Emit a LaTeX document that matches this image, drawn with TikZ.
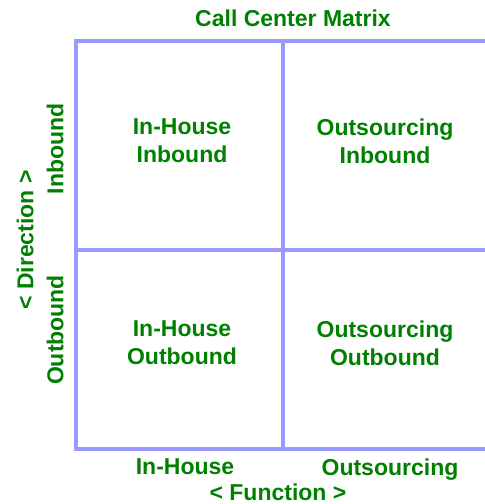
\documentclass[tikz,border=0pt]{standalone}
\usepackage{fontspec}
\setmainfont{Liberation Sans}
\definecolor{matrixgreen}{RGB}{0,128,0}
\definecolor{gridblue}{RGB}{153,153,255}

\begin{document}
\begin{tikzpicture}[x=1pt, y=-1pt,
    every node/.style={text=matrixgreen, inner sep=0pt, align=center,
        text depth=0pt, font=\fontsize{23}{28}\selectfont\bfseries},
    gridline/.style={draw=gridblue, line width=4pt}]

    % === Grid positions ===
    \def\xl{76}  \def\xm{283} \def\xr{485}
    \def\yt{41}  \def\ym{250} \def\yb{449}

    \useasboundingbox (0,0) rectangle (485,504);

    % === Grid (open on the right) ===
    \draw[gridline] (\xr,\yt) -- (\xl,\yt) -- (\xl,\yb) -- (\xr,\yb);
    \draw[gridline] (\xm,\yt) -- (\xm,\yb);
    \draw[gridline] (\xl,\ym) -- (\xr,\ym);

    % === Title ===
    \node (title) at (293,18) {Call Center Matrix};

    % === Quadrant labels ===
    \node (ihin)  at (182,141) {In-House\\Inbound};
    \node (osin)  at (385,141) {Outsourcing\\Inbound};
    \node (ihout) at (182,343) {In-House\\Outbound};
    \node (osout) at (385,343) {Outsourcing\\Outbound};

    % === Function axis ===
    \node (inhouse)  at (185,467) {In-House};
    \node (outsrc)   at (390,467) {Outsourcing};
    \node (function) at (278,492) {< Function >};

    % === Direction axis ===
    \node[rotate=90] (inbound)   at (55,149) {Inbound};
    \node[rotate=90] (outbound)  at (55,330) {Outbound};
    \node[rotate=90] (direction) at (25,240) {< Direction >};

\end{tikzpicture}
\end{document}
